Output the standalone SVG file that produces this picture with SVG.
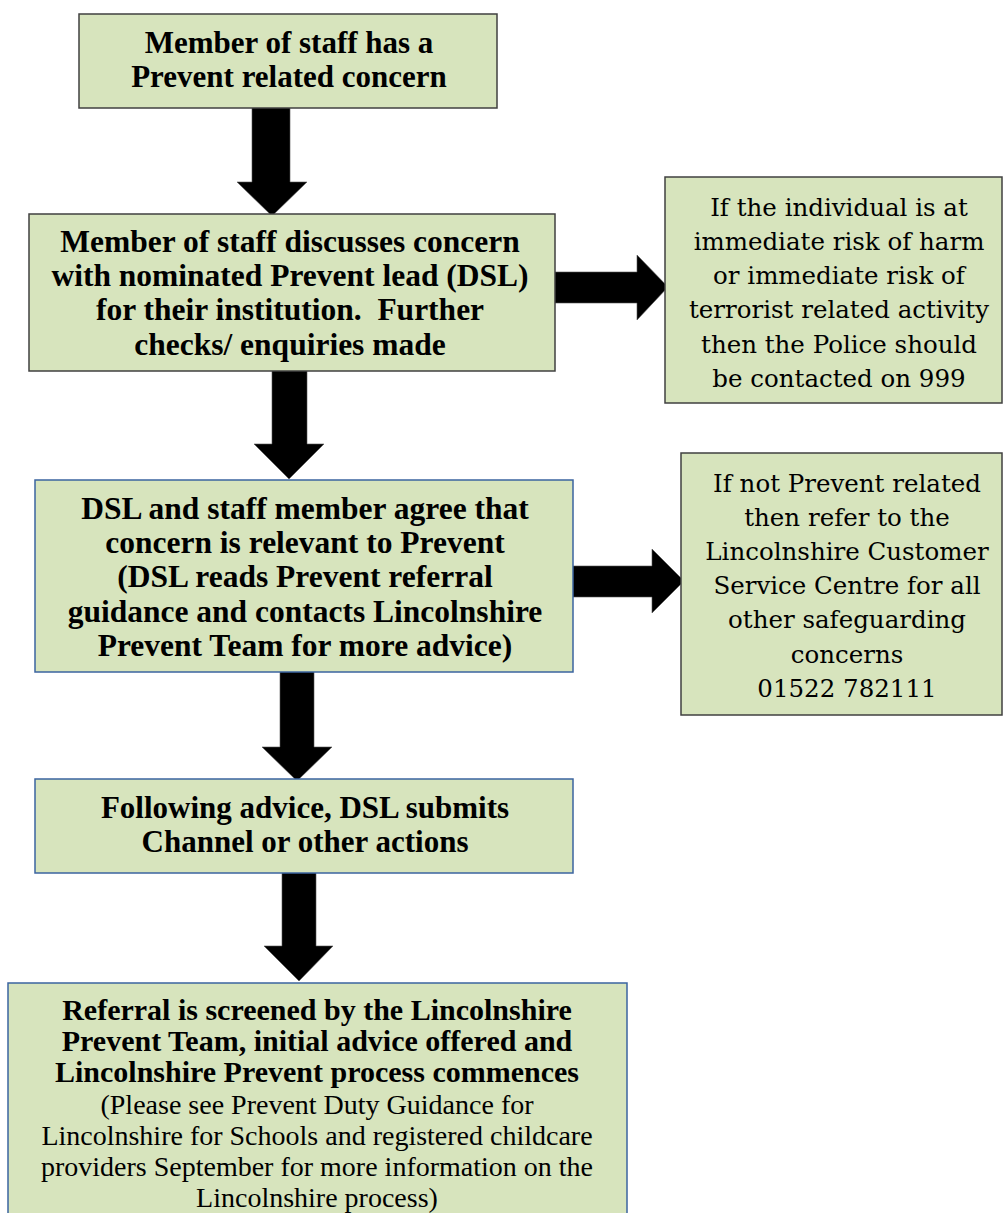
<svg xmlns="http://www.w3.org/2000/svg" width="1003" height="1213" viewBox="0 0 1003 1213">
<style>
.box{fill:#D7E4BD;stroke-width:1.5}
.g{stroke:#404040}
.b{stroke:#3B64A0}
.bt{font-family:"Liberation Serif","Times New Roman",serif;font-weight:bold;font-size:30px;fill:#000;text-anchor:middle;white-space:pre}
.l{font-size:31.5px}
.m{font-size:31px}
.rt{font-family:"DejaVu Serif",serif;font-size:24.5px;fill:#000;text-anchor:middle}
.st{font-family:"Liberation Serif","Times New Roman",serif;font-size:28px;fill:#000;text-anchor:middle}
.arr{fill:#000;stroke:#555;stroke-width:0.6}
</style>
<rect width="1003" height="1213" fill="#fff"/>
<g id="connectors">
<polygon class="arr" points="252,106 290,106 290,182 307,182 272,216 237,182 252,182"/>
<polygon class="arr" points="272,369 307,369 307,444 324,444 289,479 254,444 272,444"/>
<polygon class="arr" points="280,671 314,671 314,747 332,747 297,781 262,747 280,747"/>
<polygon class="arr" points="282,871 316,871 316,946 333,946 299,981 264,946 282,946"/>
<polygon class="arr" points="554,272 637,272 637,255 668,287 637,320 637,303 554,303"/>
<polygon class="arr" points="571,566 652,566 652,549 684,581 652,613 652,597 571,597"/>
</g>
<g id="node1">
<rect class="box g" x="79" y="14" width="418" height="94"/>
<text class="bt m" x="289" y="53">Member of staff has a</text>
<text class="bt m" x="289" y="87">Prevent related concern</text>
</g>
<g id="node2">
<rect class="box g" x="29" y="214" width="526" height="157"/>
<text class="bt l" x="290" y="252">Member of staff discusses concern</text>
<text class="bt l" x="290" y="286">with nominated Prevent lead (DSL)</text>
<text class="bt l" x="290" y="320" xml:space="preserve">for their institution.  Further</text>
<text class="bt l" x="290" y="355">checks/ enquiries made</text>
</g>
<g id="node3">
<rect class="box g" x="665" y="177" width="337" height="226"/>
<text class="rt" x="839" y="216">If the individual is at</text>
<text class="rt" x="839" y="250">immediate risk of harm</text>
<text class="rt" x="839" y="284">or immediate risk of</text>
<text class="rt" x="839" y="318">terrorist related activity</text>
<text class="rt" x="839" y="353">then the Police should</text>
<text class="rt" x="839" y="387">be contacted on 999</text>
</g>
<g id="node4">
<rect class="box b" x="35" y="480" width="538" height="192"/>
<text class="bt l" x="305" y="519">DSL and staff member agree that</text>
<text class="bt l" x="305" y="553">concern is relevant to Prevent</text>
<text class="bt l" x="305" y="587">(DSL reads Prevent referral</text>
<text class="bt l" x="305" y="622">guidance and contacts Lincolnshire</text>
<text class="bt l" x="305" y="656">Prevent Team for more advice)</text>
</g>
<g id="node5">
<rect class="box g" x="681" y="453" width="321" height="262"/>
<text class="rt" x="847" y="492">If not Prevent related</text>
<text class="rt" x="847" y="526">then refer to the</text>
<text class="rt" x="847" y="560">Lincolnshire Customer</text>
<text class="rt" x="847" y="594">Service Centre for all</text>
<text class="rt" x="847" y="628">other safeguarding</text>
<text class="rt" x="847" y="663">concerns</text>
<text class="rt" x="847" y="697">01522 782111</text>
</g>
<g id="node6">
<rect class="box b" x="35" y="779" width="538" height="94"/>
<text class="bt m" x="305" y="818">Following advice, DSL submits</text>
<text class="bt m" x="305" y="852">Channel or other actions</text>
</g>
<g id="node7">
<rect class="box b" x="8" y="983" width="619" height="245"/>
<text class="bt" x="317" y="1020">Referral is screened by the Lincolnshire</text>
<text class="bt" x="317" y="1051">Prevent Team, initial advice offered and</text>
<text class="bt" x="317" y="1082">Lincolnshire Prevent process commences</text>
<text class="st" x="317" y="1114">(Please see Prevent Duty Guidance for</text>
<text class="st" x="317" y="1145">Lincolnshire for Schools and registered childcare</text>
<text class="st" x="317" y="1176">providers September for more information on the</text>
<text class="st" x="317" y="1207">Lincolnshire process)</text>
</g>
</svg>
